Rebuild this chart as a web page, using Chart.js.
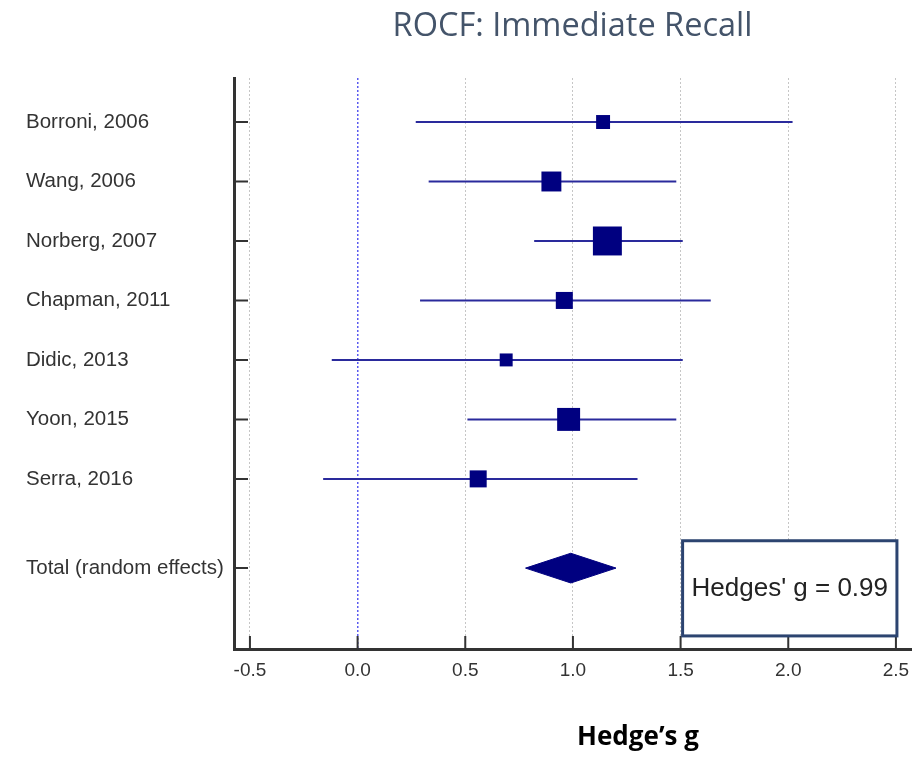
<!DOCTYPE html>
<html>
<head>
<meta charset="utf-8">
<script src="https://cdn.jsdelivr.net/npm/chart.js@4.4.0/dist/chart.umd.min.js"></script>
<style>
  html, body { margin: 0; padding: 0; background: #fff; }
  #wrap { width: 917px; height: 757px; }
</style>
</head>
<body>
<div id="wrap"><canvas id="forest"></canvas></div>
<script>
const studies = ['Borroni, 2006', 'Wang, 2006', 'Norberg, 2007', 'Chapman, 2011', 'Didic, 2013', 'Yoon, 2015', 'Serra, 2016'];
const effect = [1.14, 0.90, 1.16, 0.96, 0.69, 0.98, 0.56];
const ciLow = [0.27, 0.33, 0.82, 0.29, -0.12, 0.51, -0.16];
const ciHigh = [2.02, 1.48, 1.51, 1.64, 1.51, 1.48, 1.30];
const weights = [7.2, 14.7, 31.0, 10.7, 6.2, 19.5, 10.7]; // % weight, square area
const totalLabel = 'Total (random effects)';
const pooled = 0.99;
const pooledLow = 0.78;
const pooledHigh = 1.20;
const xTicks = [-0.5, 0, 0.5, 1, 1.5, 2, 2.5];

// row positions: one per study, pooled row sits 1.5 rows below the last
const rows = studies.map((s, i) => i + 1);
const totalRow = studies.length + 1.5;
const yTicks = [...rows, totalRow];
const yLabels = [...studies, totalLabel];

const NAVY = '#000080';
const LINE = '#2a2a9c';

const ciSets = studies.map((s, i) => ({
  label: s,
  data: [{ x: ciLow[i], y: rows[i] }, { x: ciHigh[i], y: rows[i] }],
  showLine: true,
  borderColor: LINE,
  borderWidth: 2,
  pointRadius: 0,
  order: 2
}));

const squares = {
  label: 'effect',
  data: effect.map((g, i) => ({ x: g, y: rows[i] })),
  pointStyle: 'rect',
  pointRadius: weights.map(w => Math.sqrt(w) * 5.2 / 1.414),
  backgroundColor: NAVY,
  borderWidth: 0,
  order: 0
};

const dh = 0.25; // diamond half height in rows
const diamond = {
  label: 'pooled',
  data: [
    { x: pooledLow, y: totalRow },
    { x: pooled, y: totalRow - dh },
    { x: pooledHigh, y: totalRow },
    { x: pooled, y: totalRow + dh },
    { x: pooledLow, y: totalRow }
  ],
  showLine: true,
  fill: 'shape',
  backgroundColor: NAVY,
  borderColor: NAVY,
  borderWidth: 1,
  pointRadius: 0,
  order: 1
};

// inward tick marks, result box and x axis caption
const forestExtras = {
  id: 'forestExtras',
  afterDraw(chart) {
    const { ctx, chartArea: area, scales: { x, y } } = chart;
    ctx.save();
    ctx.strokeStyle = '#333';
    ctx.lineWidth = 2;
    ctx.beginPath();
    xTicks.forEach(v => {
      const px = x.getPixelForValue(v);
      ctx.moveTo(px, area.bottom);
      ctx.lineTo(px, area.bottom - 13);
    });
    yTicks.forEach(v => {
      const py = y.getPixelForValue(v);
      ctx.moveTo(area.left, py);
      ctx.lineTo(area.left + 14, py);
    });
    ctx.stroke();

    const bx0 = x.getPixelForValue(1.5) + 2;
    const bx1 = x.getPixelForValue(2.5) + 1;
    const by0 = y.getPixelForValue(8.04);
    const by1 = y.getPixelForValue(9.64);
    ctx.fillStyle = '#fff';
    ctx.fillRect(bx0, by0, bx1 - bx0, by1 - by0);
    ctx.strokeStyle = '#2c4470';
    ctx.lineWidth = 3;
    ctx.strokeRect(bx0, by0, bx1 - bx0, by1 - by0);
    ctx.fillStyle = '#222';
    ctx.font = '26px "Liberation Sans", Arial, sans-serif';
    ctx.textAlign = 'center';
    ctx.textBaseline = 'middle';
    ctx.fillText("Hedges' g = " + pooled.toFixed(2), (bx0 + bx1) / 2, (by0 + by1) / 2);

    ctx.fillStyle = '#000';
    ctx.font = 'bold 26px "Open Sans", sans-serif';
    ctx.textBaseline = 'alphabetic';
    ctx.fillText('Hedge\u2019s g', area.left + 404, 745);
    ctx.restore();
  }
};

const chart = new Chart(document.getElementById('forest').getContext('2d'), {
  type: 'scatter',
  data: { datasets: [squares, diamond, ...ciSets] },
  options: {
    responsive: true,
    maintainAspectRatio: false,
    animation: false,
    layout: { autoPadding: false, padding: { left: 26, right: 6, top: 0, bottom: 0 } },
    plugins: {
      legend: { display: false },
      tooltip: { enabled: false },
      title: {
        display: true,
        text: 'ROCF: Immediate Recall',
        fullSize: false,
        color: '#44546a',
        font: { family: 'Open Sans', size: 32.5, weight: 'normal' },
        padding: { top: 7, bottom: 32 }
      }
    },
    scales: {
      x: {
        type: 'linear',
        min: -0.574,
        max: 2.57,
        afterBuildTicks: s => { s.ticks = xTicks.map(v => ({ value: v })); },
        afterFit: s => { s.height = 108; s.paddingLeft = 0; s.paddingRight = 0; },
        ticks: {
          callback: v => v.toFixed(1),
          color: '#333',
          font: { family: 'Liberation Sans', size: 19 },
          padding: 10,
          maxRotation: 0,
          autoSkip: false
        },
        grid: {
          drawTicks: false,
          color: c => (c.tick && c.tick.value === 0 ? '#5a5af0' : '#c6c6c6'),
          lineWidth: c => (c.tick && c.tick.value === 0 ? 1.5 : 1)
        },
        border: { color: '#333', width: 3, dash: [2, 2] }
      },
      y: {
        type: 'linear',
        reverse: true,
        min: 0.26,
        max: 9.86,
        afterBuildTicks: s => { s.ticks = yTicks.map(v => ({ value: v })); },
        afterFit: s => { s.width = 208; s.paddingTop = 0; s.paddingBottom = 0; },
        ticks: {
          callback: (v, i) => yLabels[i],
          crossAlign: 'far',
          color: '#333',
          font: { family: 'Liberation Sans', size: 20.5 },
          autoSkip: false
        },
        grid: { display: false, drawTicks: false },
        border: { color: '#333', width: 3 }
      }
    }
  },
  plugins: [forestExtras]
});
</script>
</body>
</html>
